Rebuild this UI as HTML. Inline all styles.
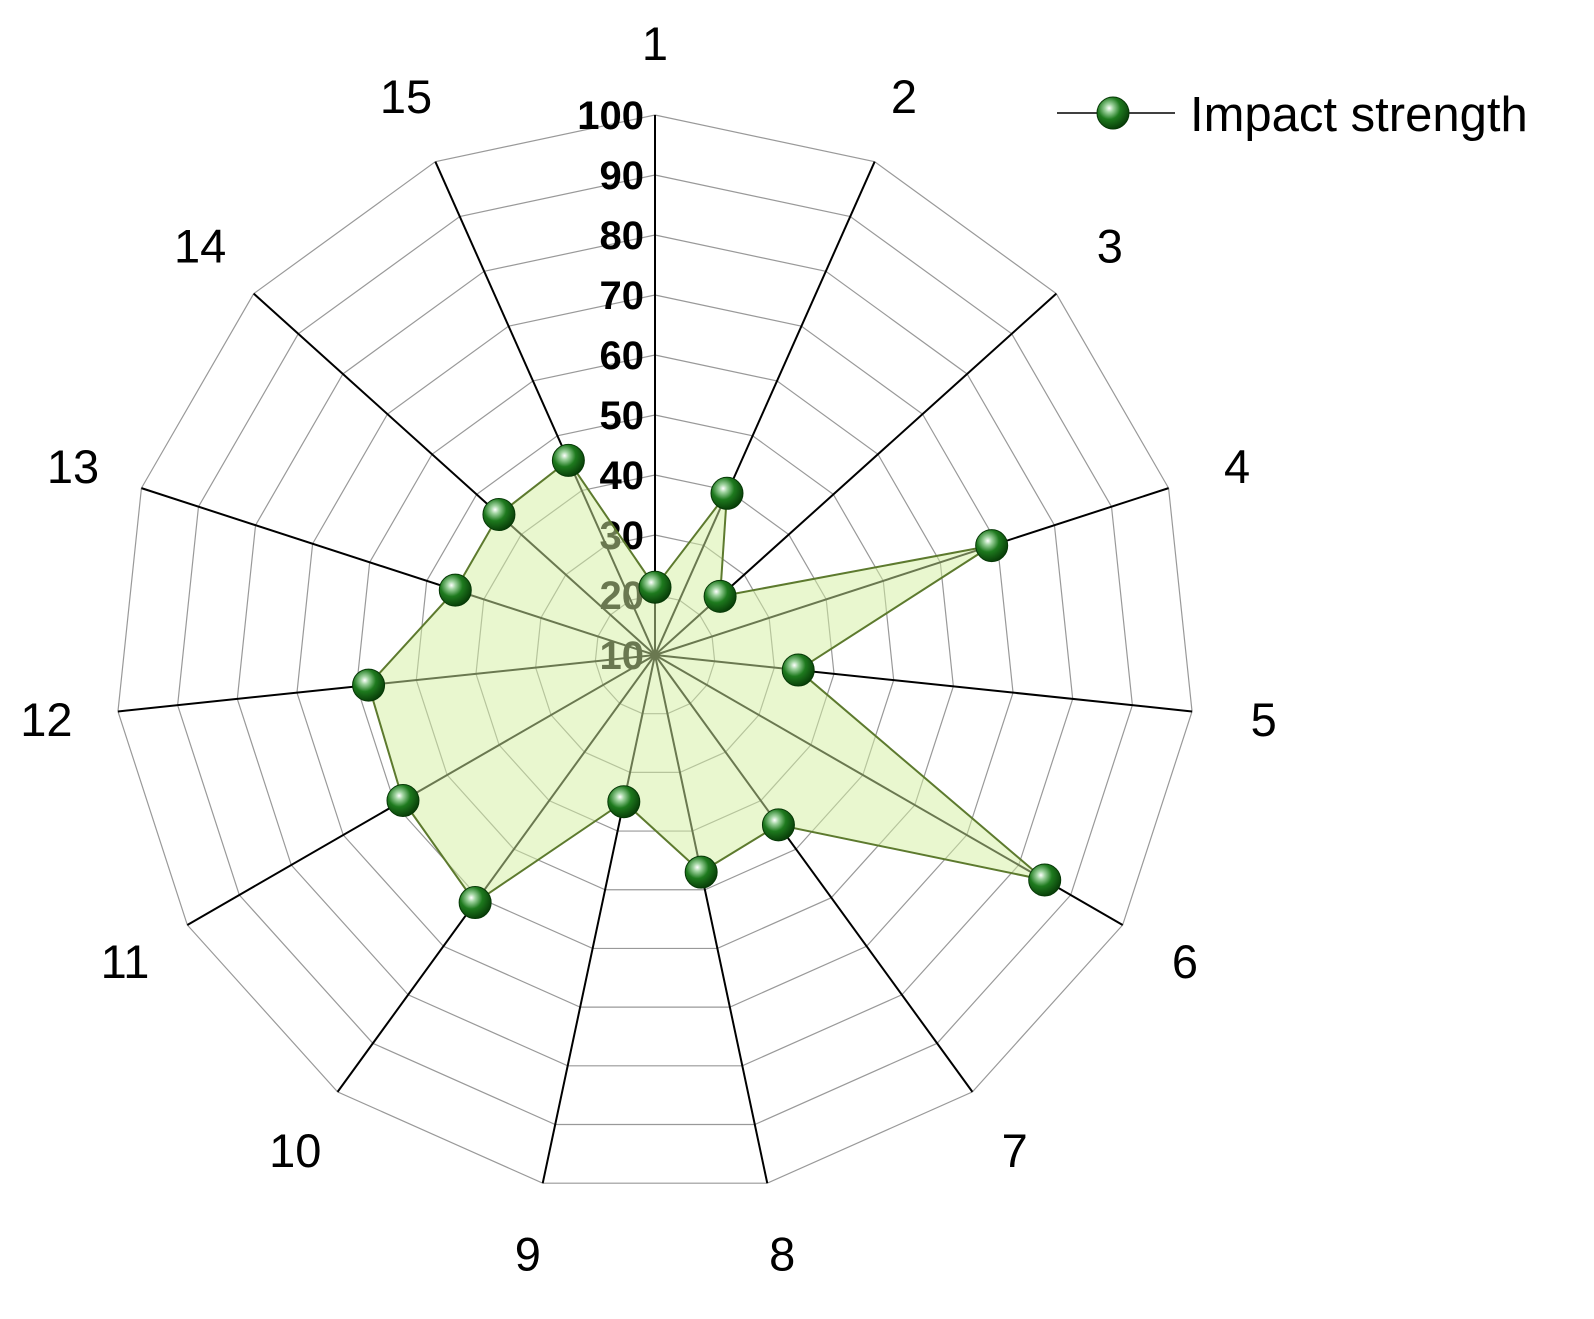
<!DOCTYPE html>
<html><head><meta charset="utf-8"><style>
html,body{margin:0;padding:0;background:#fff}
svg{display:block;font-family:"Liberation Sans",Arial,sans-serif}
</style></head><body>
<svg id="chart" width="1594" height="1319" viewBox="0 0 1594 1319" xmlns="http://www.w3.org/2000/svg">
<defs>
<radialGradient id="ball" cx="0.38" cy="0.35" r="0.7">
<stop offset="0" stop-color="#ffffff"/><stop offset="0.18" stop-color="#9fd39f"/><stop offset="0.5" stop-color="#1e7a1e"/><stop offset="1" stop-color="#063806"/>
</radialGradient>
</defs>
<g id="grid"></g>
<g id="ticks"></g>
<g id="series"></g>
<g id="cats"></g>
<g>
<line x1="1057" y1="113" x2="1175" y2="113" stroke="#000" stroke-width="1.5"/>
<circle cx="1113" cy="113" r="16" fill="url(#ball)" stroke="#063806" stroke-width="1"/>
<text x="1190" y="131" font-size="49" fill="#000">Impact strength</text>
</g>
</svg>
<script>
const categories = ["1","2","3","4","5","6","7","8","9","10","11","12","13","14","15"];
const values = [21.3, 39.5, 24.6, 69, 34, 85, 45, 47, 35, 61, 58.5, 58, 45, 45, 45.5];
const tickLabels = [10,20,30,40,50,60,70,80,90,100];
const NS = "http://www.w3.org/2000/svg";
const cx = 655, cy = 655, vMin = 10, vMax = 100, R = 540;
function rScale(v){ return (v - vMin) / (vMax - vMin) * R; }
function pt(i, v){ const a = i / categories.length * 2 * Math.PI; const r = rScale(v); return [cx + r*Math.sin(a), cy - r*Math.cos(a)]; }
function mk(tag, attrs, parent){ const e = document.createElementNS(NS, tag); for (const k in attrs) e.setAttribute(k, attrs[k]); parent.appendChild(e); return e; }
const grid = document.getElementById('grid');
tickLabels.forEach(t => {
  if (t === vMin) return;
  const pts = categories.map((c, i) => pt(i, t).join(',')).join(' ');
  const p = mk('polygon', {points: pts, fill: 'none', stroke: '#999', 'stroke-width': 1.2}, grid);
  
  
});
categories.forEach((c, i) => {
  const [x, y] = pt(i, vMax);
  const l = mk('line', {x1: cx, y1: cy, x2: x, y2: y, stroke: '#000', 'stroke-width': 2}, grid);
  
  
});
const ticks = document.getElementById('ticks');
tickLabels.forEach(t => {
  const y = cy - rScale(t);
  const tx = mk('text', {x: 644, y: y + 14, 'font-size': 40, 'font-weight': 'bold', 'text-anchor': 'end', fill: '#000'}, ticks);
  tx.textContent = t;
  
  
});
const series = document.getElementById('series');
const poly = categories.map((c, i) => pt(i, values[i]).join(',')).join(' ');
const area = mk('polygon', {points: poly, fill: '#d4f0a0', 'fill-opacity': 0.5, stroke: '#5d7a2e', 'stroke-width': 2}, series);


categories.forEach((c, i) => {
  const [x, y] = pt(i, values[i]);
  const m = mk('circle', {cx: x, cy: y, r: 16, fill: 'url(#ball)', stroke: '#063806', 'stroke-width': 1}, series);
  
  
});
const cats = document.getElementById('cats');
categories.forEach((c, i) => {
  const a = i / categories.length * 2 * Math.PI;
  const r = 612;
  const x = cx + r*Math.sin(a), y = cy - r*Math.cos(a);
  const tx = mk('text', {x: x, y: y + 17, 'font-size': 47, 'text-anchor': 'middle', fill: '#000'}, cats);
  tx.textContent = c;
  
  
});
</script>
</body></html>
